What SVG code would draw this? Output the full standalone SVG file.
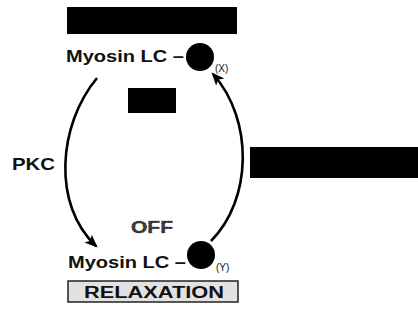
<svg xmlns="http://www.w3.org/2000/svg" width="418" height="320" viewBox="0 0 418 320">
<style>
.lbl{font-family:"Liberation Sans",Arial,sans-serif;font-weight:bold;fill:#111}
.sm{font-family:"Liberation Sans",Arial,sans-serif;font-size:10px;fill:#111}
.arc{fill:none;stroke:#000;stroke-width:2.6}
.blk{fill:#000}
</style>
<defs>
<marker id="ah" viewBox="0 0 12 10" refX="10" refY="5" markerWidth="5" markerHeight="4.5" orient="auto" markerUnits="strokeWidth">
<path d="M0,0 L12,5 L0,10 L3,5 z" fill="#000"/>
</marker>
</defs>
<rect width="418" height="320" fill="#fff"/>
<g id="top-label"><rect class="blk" x="67" y="7" width="170" height="27"/></g>
<g id="mlc-x">
<text class="lbl" x="66" y="62" font-size="16" textLength="118" lengthAdjust="spacingAndGlyphs">Myosin LC –</text>
<circle cx="200" cy="57" r="14" fill="#000"/>
<text class="sm" x="215" y="72">(X)</text>
</g>
<g id="mid-label"><rect class="blk" x="128" y="88" width="48" height="25"/></g>
<g id="right-label"><rect class="blk" x="250" y="147" width="168" height="31"/></g>
<g id="pkc"><text class="lbl" x="12" y="170" font-size="17" textLength="43" lengthAdjust="spacingAndGlyphs">PKC</text></g>
<g id="off"><text x="131" y="233" font-family="Liberation Sans,Arial,sans-serif" font-weight="bold" font-size="16" fill="#3a3a3a" stroke="#111" stroke-width="0.5" stroke-dasharray="1.5 1" textLength="42" lengthAdjust="spacingAndGlyphs">OFF</text></g>
<g id="mlc-y">
<text class="lbl" x="68" y="268" font-size="16" textLength="118" lengthAdjust="spacingAndGlyphs">Myosin LC –</text>
<circle cx="201" cy="255" r="14" fill="#000"/>
<text class="sm" x="216" y="271">(Y)</text>
</g>
<g id="relaxation">
<rect x="68" y="281" width="170" height="21" fill="#e2e2e2" stroke="#222" stroke-width="1.5"/>
<text class="lbl" x="84" y="298" font-size="16" textLength="140" lengthAdjust="spacingAndGlyphs">RELAXATION</text>
</g>
<g id="connectors">
<path class="arc" d="M97,78 C58,125 52,205 96,246" marker-end="url(#ah)"/>
<path class="arc" d="M211,241 C252,200 254,120 213,74" marker-end="url(#ah)"/>
</g>
</svg>
